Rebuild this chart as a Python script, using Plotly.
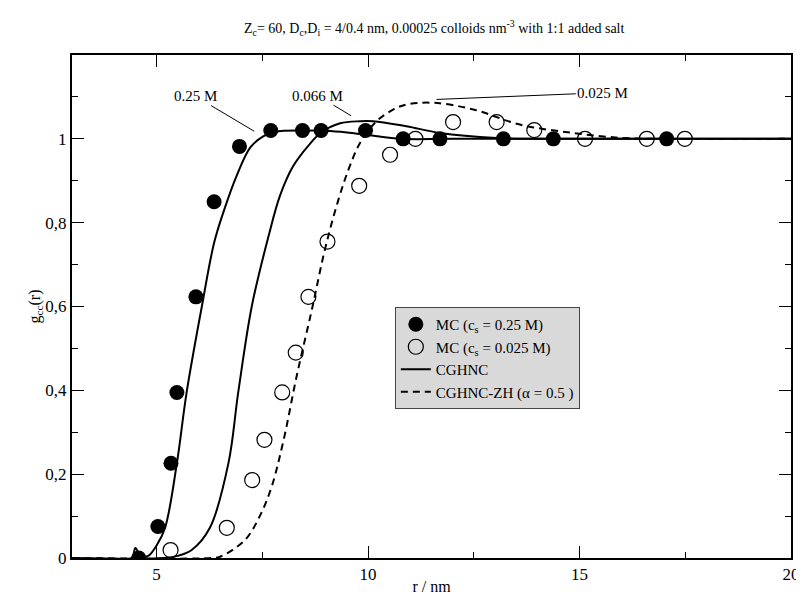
import plotly.graph_objects as go

# MC data, c_s = 0.25 M (filled circles)
mc025_r = [4.58, 5.03, 5.34, 5.48, 5.93, 6.36, 6.96, 7.70, 8.45, 8.89, 9.94, 10.83, 11.70, 13.20, 14.38, 17.06]
mc025_g = [0.0, 0.075, 0.226, 0.395, 0.623, 0.850, 0.982, 1.020, 1.020, 1.020, 1.020, 1.0, 1.0, 1.0, 1.0, 1.0]

# MC data, c_s = 0.025 M (open circles)
mc0025_r = [5.33, 6.66, 7.26, 7.55, 7.97, 8.29, 8.59, 9.04, 9.79, 10.52, 11.12, 12.01, 13.04, 13.93, 15.13, 16.59, 17.49]
mc0025_g = [0.019, 0.072, 0.186, 0.282, 0.395, 0.490, 0.623, 0.755, 0.888, 0.962, 1.0, 1.040, 1.040, 1.021, 1.0, 1.0, 1.0]

# CGHNC curves (solid)
cg025_r = [3.0, 4.40, 4.50, 4.62, 4.80, 5.00, 5.20, 5.48, 5.71, 6.07, 6.36, 6.60, 6.89, 7.22, 7.52, 7.80, 8.50, 9.00, 9.50, 10.0, 10.8, 12.0, 20.0]
cg025_g = [0.0, 0.0, 0.024, 0.004, 0.005, 0.030, 0.072, 0.226, 0.395, 0.600, 0.752, 0.831, 0.911, 0.980, 1.006, 1.017, 1.020, 1.019, 1.015, 1.009, 1.0, 1.0, 1.0]

cg0066_r = [3.0, 5.20, 5.50, 5.83, 6.26, 6.70, 6.93, 7.25, 7.64, 7.92, 8.23, 8.60, 8.89, 9.34, 9.81, 10.12, 10.91, 11.70, 13.04, 14.0, 20.0]
cg0066_g = [0.0, 0.0, 0.005, 0.019, 0.072, 0.227, 0.395, 0.600, 0.765, 0.865, 0.935, 0.985, 1.015, 1.037, 1.042, 1.042, 1.030, 1.014, 1.002, 1.0, 1.0]

# CGHNC-ZH curve (dashed), c_s = 0.025 M
zh_r = [3.0, 6.30, 6.50, 7.09, 7.44, 7.72, 8.00, 8.31, 8.67, 8.98, 9.30, 9.55, 9.81, 10.20, 10.60, 10.91, 11.54, 12.49, 13.59, 14.85, 16.03, 17.0, 20.0]
zh_g = [0.0, 0.0, 0.003, 0.043, 0.100, 0.170, 0.280, 0.433, 0.592, 0.736, 0.855, 0.930, 0.990, 1.042, 1.070, 1.082, 1.086, 1.070, 1.034, 1.014, 1.002, 1.0, 1.0]

# curve labels: text, label position (r, g), leader end (r, g)
labels = ["0.25 M", "0.066 M", "0.025 M"]
label_pos = [(5.91, 1.102), (8.81, 1.103), (15.55, 1.110)]
leader_end = [(7.31, 1.018), (9.60, 1.055), (11.62, 1.094)]

x_tickvals = [5, 10, 15, 20]
y_tickvals = [0, 0.2, 0.4, 0.6, 0.8, 1.0]
y_ticktext = ["0", "0,2", "0,4", "0,6", "0,8", "1"]

FONT = "Liberation Serif"

fig = go.Figure()
line_style = dict(color="black", width=2, shape="spline", smoothing=1.0)
fig.add_trace(go.Scatter(x=cg025_r, y=cg025_g, mode="lines", line=line_style,
                         name="CGHNC", legendrank=3))
fig.add_trace(go.Scatter(x=cg0066_r, y=cg0066_g, mode="lines", line=line_style,
                         showlegend=False))
fig.add_trace(go.Scatter(x=zh_r, y=zh_g, mode="lines", line=dict(line_style, dash="7px,5px"),
                         name="CGHNC-ZH (α = 0.5 )", legendrank=4))
fig.add_trace(go.Scatter(x=mc025_r, y=mc025_g, mode="markers", marker=dict(symbol="circle", size=15, color="black"),
                         name="MC (c<sub>s</sub> = 0.25 M)", legendrank=1))
fig.add_trace(go.Scatter(x=mc0025_r, y=mc0025_g, mode="markers",
                         marker=dict(symbol="circle-open", size=15, color="black", line=dict(width=1.2)),
                         name="MC (c<sub>s</sub> = 0.025 M)", legendrank=2))

for txt, (tx, ty), (ex, ey) in zip(labels, label_pos, leader_end):
    fig.add_annotation(x=ex, y=ey, ax=tx, ay=ty, axref="x", ayref="y", xref="x", yref="y",
                       text=txt, showarrow=True, arrowhead=0, arrowwidth=1, arrowcolor="black",
                       font=dict(family=FONT, size=15, color="black"))

fig.add_annotation(x=0.504, y=1.054, xref="paper", yref="paper", yanchor="middle", showarrow=False,
                   text="Z<sub>c</sub>= 60, D<sub>c</sub>,D<sub>i</sub> = 4/0.4 nm, 0.00025 colloids nm<sup>-3</sup> with 1:1 added salt",
                   font=dict(family=FONT, size=14, color="black"))

axis_common = dict(showline=True, linecolor="black", linewidth=2, mirror="ticks", ticks="inside",
                   ticklen=12, tickwidth=1, tickcolor="black", showgrid=False, zeroline=False,
                   automargin=False, ticklabeloverflow="allow",
                   tickfont=dict(family=FONT, size=17, color="black"))

fig.update_xaxes(range=[3, 20], tickvals=x_tickvals,
                 minor=dict(ticks="inside", tick0=0, dtick=2.5, ticklen=6, tickcolor="black", showgrid=False),
                 title=dict(text="r / nm", font=dict(family=FONT, size=16, color="black"), standoff=7),
                 **axis_common)
fig.update_yaxes(range=[0, 1.2], tickvals=y_tickvals, ticktext=y_ticktext,
                 minor=dict(ticks="inside", tick0=0, dtick=0.1, ticklen=6, tickcolor="black", showgrid=False),
                 title=dict(text="g<sub>cc</sub>(r)", font=dict(family=FONT, size=16, color="black"), standoff=0),
                 **axis_common)

# page body has an 8px margin, so the figure is sized to fit the 804x603 window
fig.update_layout(
    width=796, height=587,
    margin=dict(l=64, r=13, t=47, b=37),
    plot_bgcolor="white", paper_bgcolor="white",
    font=dict(family=FONT, color="black"),
    legend=dict(x=0.449, y=0.499, xanchor="left", yanchor="top",
                bgcolor="#d9d9d9", bordercolor="#444444", borderwidth=1,
                font=dict(family=FONT, size=15, color="black"),
                tracegroupgap=0, itemwidth=30),
)

fig.write_html("out.html")
